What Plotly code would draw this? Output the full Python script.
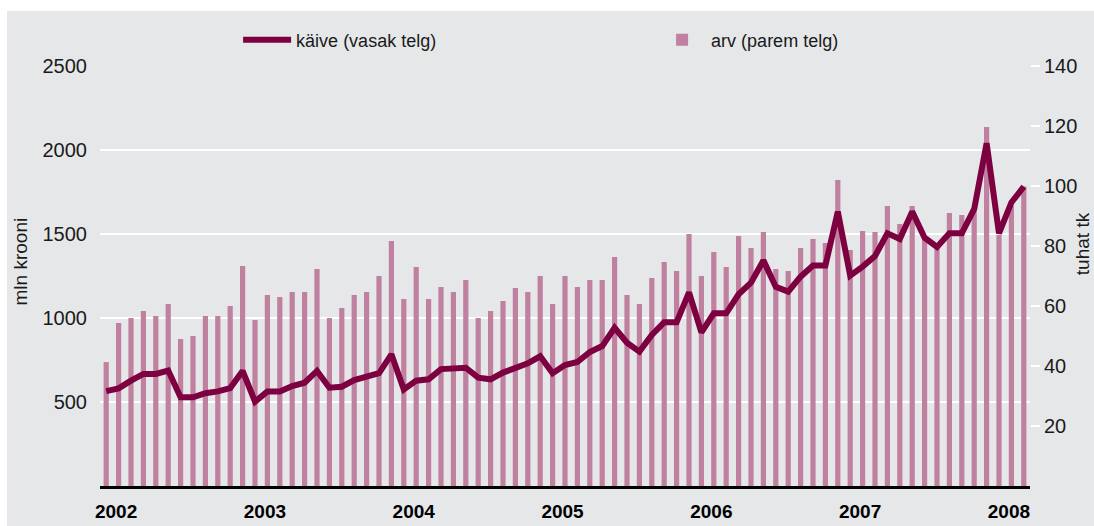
import plotly.graph_objects as go

# ---- data (monthly, Jan 2002 .. Mar 2008) ----
months = [f"{y}-{m:02d}" for y in range(2002, 2009) for m in range(1, 13)][:75]

# käive, mln krooni (left axis) - line
kaive = [565, 581, 627, 667, 667, 687, 528, 528, 552, 563, 583, 685,
         502, 563, 563, 595, 615, 685, 585, 591, 631, 651, 671, 784,
         575, 627, 635, 696, 696, 704, 645, 635, 675, 700, 730, 772,
         671, 720, 738, 798, 833, 942, 853, 800, 899, 974, 974, 1153,
         915, 1028, 1028, 1141, 1210, 1343, 1185, 1157, 1246, 1312, 1312, 1633,
         1252, 1306, 1369, 1504, 1470, 1633, 1478, 1423, 1504, 1504, 1649, 2040,
         1504, 1688, 1782]

# arv, tuhat tk (right axis) - bars
arv = [41.3, 54.3, 56.0, 58.3, 56.7, 60.7, 49.0, 50.0, 56.7, 56.7, 60.0, 73.3,
       55.3, 63.7, 63.0, 64.7, 64.7, 72.3, 56.0, 59.3, 63.7, 64.7, 70.0, 81.7,
       62.3, 73.0, 62.3, 66.3, 64.7, 68.7, 56.0, 58.3, 61.7, 66.0, 64.7, 70.0,
       60.7, 70.0, 66.3, 68.7, 68.7, 76.3, 63.7, 60.7, 69.3, 74.7, 71.7, 84.0,
       70.0, 78.0, 73.0, 83.3, 79.3, 84.7, 72.3, 71.7, 79.3, 82.3, 81.0, 102.0,
       78.7, 85.0, 84.7, 93.3, 87.3, 93.3, 82.0, 79.2, 91.0, 90.3, 92.0, 119.7,
       83.7, 93.3, 99.8]

year_labels = ["2002", "2003", "2004", "2005", "2006", "2007", "2008"]
left_ticks = [500, 1000, 1500, 2000, 2500]
right_ticks = [20, 40, 60, 80, 100, 120, 140]

x_idx = list(range(len(months)))
year_tickvals = [12 * i + 0.8 for i in range(len(year_labels))]

LINE_COLOR = "#7d0040"
BAR_COLOR = "#c0809f"
BG = "#e6e7e9"
TXT = "#1a1a1a"
FONT = "Liberation Sans, Arial, Helvetica, sans-serif"

fig = go.Figure()
fig.add_trace(go.Scatter(
    x=x_idx, y=kaive, name="käive (vasak telg)", mode="lines",
    line=dict(color=LINE_COLOR, width=6), yaxis="y2",
    customdata=months, hovertemplate="%{customdata}: %{y}<extra></extra>"))
fig.add_trace(go.Bar(
    x=x_idx, y=arv, name="arv (parem telg)", yaxis="y",
    marker=dict(color=BAR_COLOR, line=dict(width=0)), width=0.42,
    customdata=months, hovertemplate="%{customdata}: %{y}<extra></extra>"))

fig.update_layout(
    width=1094, height=526, autosize=False,
    margin=dict(l=100, r=64, t=66, b=40, pad=0),
    paper_bgcolor="white", plot_bgcolor=BG,
    font=dict(family=FONT, size=20, color=TXT),
    showlegend=True,
    legend=dict(orientation="h", x=0.1485, xanchor="left", y=1.062, yanchor="middle",
                bgcolor="rgba(0,0,0,0)", font=dict(size=18, color=TXT),
                itemwidth=48, entrywidth=352, entrywidthmode="pixels",
                traceorder="normal"),
    xaxis=dict(range=[-0.5, 74.5], tickmode="array", tickvals=year_tickvals,
               ticktext=[f"<b>{t}</b>" for t in year_labels], ticks="",
               showgrid=False, zeroline=False, showline=True, linecolor="black",
               linewidth=2.5, ticklabelstandoff=6, automargin=False,
               tickfont=dict(size=19, color="black")),
    yaxis=dict(side="right", range=[0, 140], tickmode="array", tickvals=right_ticks,
               showgrid=False, zeroline=False, showline=False, automargin=False,
               ticks="outside", ticklen=9, tickwidth=2, tickcolor="white"),
    yaxis2=dict(side="left", overlaying="y", range=[0, 2500], tickmode="array",
                tickvals=left_ticks, showgrid=True, gridcolor="white", gridwidth=2,
                zeroline=False, showline=False, ticks="", ticklabelstandoff=12,
                automargin=False),
    bargap=0.6,
    shapes=[dict(type="rect", xref="paper", yref="paper", x0=-0.1, x1=1.2,
                 y0=-0.2, y1=1.131, fillcolor=BG, line=dict(width=0), layer="below")],
    annotations=[
        dict(text="mln krooni", textangle=-90, xref="paper", yref="paper",
             x=-0.085, y=0.5345, showarrow=False, font=dict(size=19, color=TXT),
             xanchor="center", yanchor="middle"),
        dict(text="tuhat tk", textangle=-90, xref="paper", yref="paper",
             x=1.056, y=0.576, showarrow=False, font=dict(size=19, color=TXT),
             xanchor="center", yanchor="middle"),
    ],
)

# remove the default page margin so the 1094x526 figure fills the window exactly
fig.write_html("out.html", config={"displayModeBar": False},
               post_script="document.body.style.margin='0';document.body.style.overflow='hidden';")
